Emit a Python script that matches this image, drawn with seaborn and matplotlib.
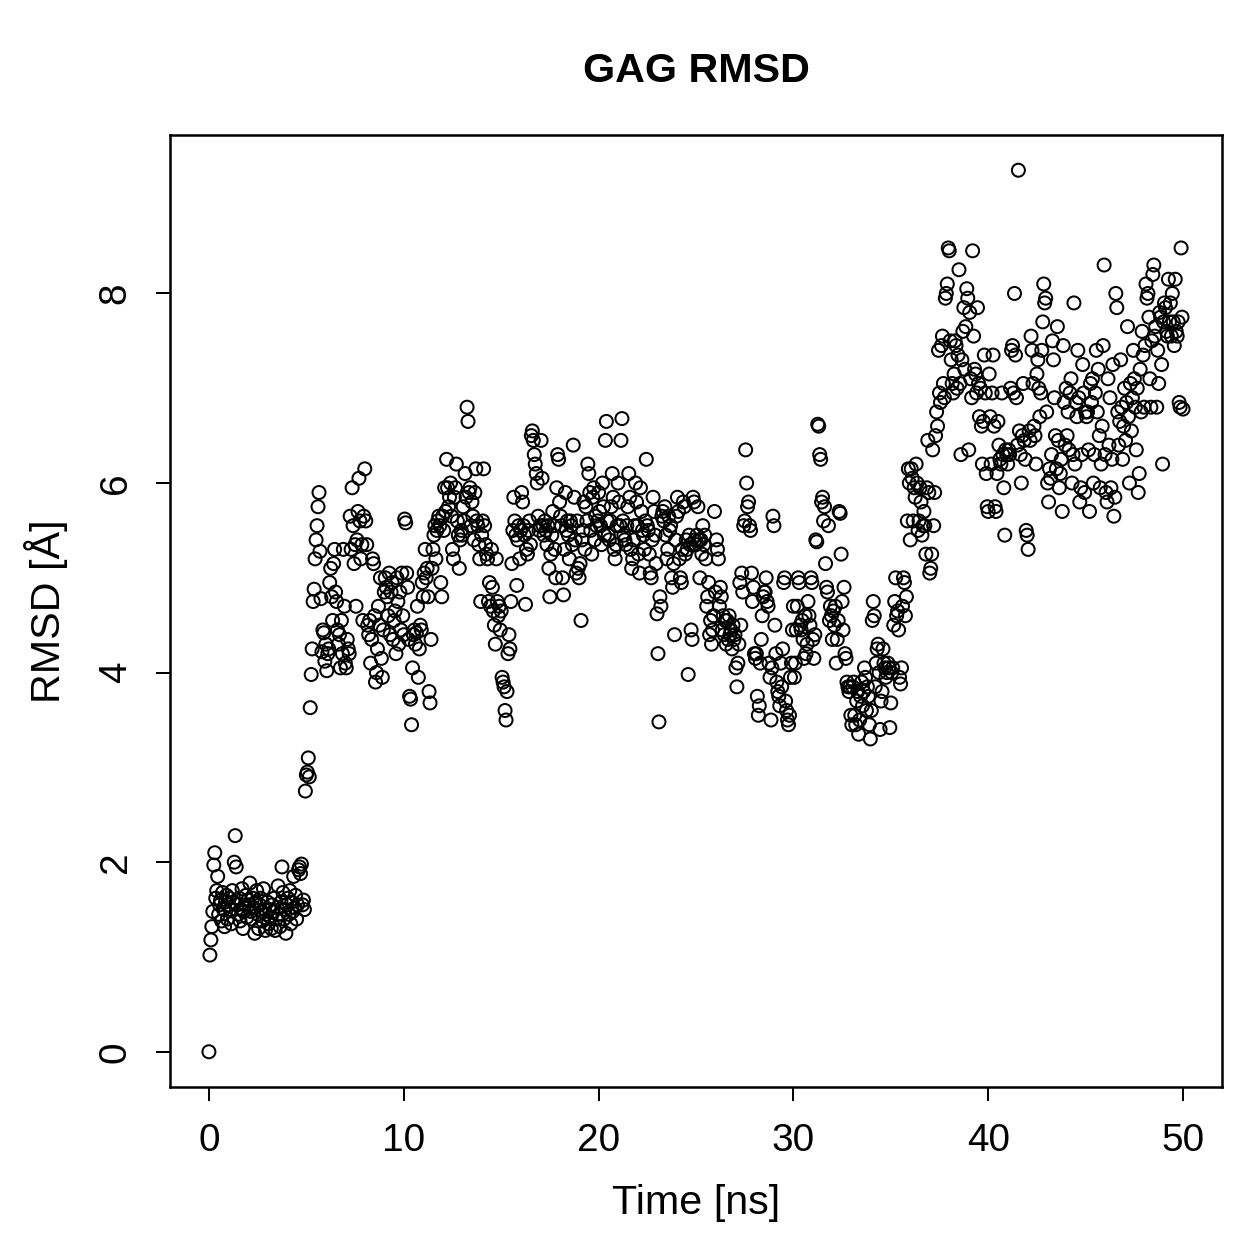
import numpy as np
import pandas as pd
import matplotlib
matplotlib.use("Agg")
import matplotlib.pyplot as plt
import seaborn as sns

# RMSD values, one line per nanosecond (20 frames / ns)
rmsd = [0.00,
    1.02, 1.18, 1.32, 1.48, 1.97, 2.10, 1.62, 1.70, 1.85, 1.45, 1.55, 1.60, 1.38, 1.68, 1.50, 1.32, 1.58, 1.65, 1.40, 1.55,
    1.62, 1.50, 1.35, 1.70, 1.58, 2.00, 2.28, 1.95, 1.55, 1.45, 1.62, 1.38, 1.50, 1.72, 1.30, 1.48, 1.55, 1.65, 1.42, 1.60,
    1.55, 1.78, 1.48, 1.40, 1.62, 1.52, 1.25, 1.58, 1.70, 1.45, 1.30, 1.55, 1.62, 1.48, 1.38, 1.72, 1.50, 1.28, 1.45, 1.58,
    1.35, 1.50, 1.42, 1.30, 1.55, 1.48, 1.62, 1.28, 1.40, 1.52, 1.75, 1.45, 1.32, 1.58, 1.95, 1.68, 1.40, 1.50, 1.25, 1.55,
    1.62, 1.45, 1.70, 1.35, 1.58, 1.48, 1.85, 1.52, 1.65, 1.40, 1.55, 1.92, 1.95, 1.88, 1.98, 1.55, 1.60, 1.50, 2.75, 2.92,
    2.95, 3.10, 2.90, 3.63, 3.98, 4.25, 4.75, 4.88, 5.20, 5.40, 5.55, 5.75, 5.90, 5.28, 4.78, 4.22, 4.45, 4.42, 4.12, 4.30,
    4.02, 4.20, 4.25, 4.95, 5.10, 4.80, 4.55, 5.15, 5.30, 4.85, 4.75, 4.45, 4.30, 4.40, 4.05, 4.55, 4.20, 5.30, 4.70, 4.10,
    4.05, 4.35, 4.25, 4.20, 5.65, 5.30, 5.95, 5.55, 5.15, 5.35, 4.70, 5.40, 5.70, 6.05, 5.60, 5.20, 5.35, 4.55, 5.65, 6.15,
    5.60, 5.35, 4.50, 4.40, 4.55, 4.10, 4.35, 5.20, 5.15, 4.60, 3.90, 4.00, 4.25, 4.70, 4.50, 5.00, 4.15, 3.95, 4.45, 4.85,
    5.00, 4.90, 4.80, 4.60, 5.05, 4.40, 4.85, 4.95, 4.35, 4.55, 4.65, 4.20, 5.00, 4.75, 4.30, 4.85, 4.45, 5.05, 4.60, 4.40,
    5.62, 5.58, 5.05, 4.90, 4.35, 3.75, 3.72, 3.45, 4.05, 4.40, 4.45, 4.30, 4.42, 4.70, 3.95, 4.25, 4.50, 4.45, 4.95, 4.80,
    5.05, 5.30, 5.00, 5.10, 4.80, 3.80, 3.68, 4.35, 5.10, 5.30, 5.45, 5.55, 5.20, 5.50, 5.60, 5.65, 5.55, 4.95, 4.80, 5.65,
    5.50, 5.95, 5.70, 6.25, 5.95, 5.75, 5.85, 6.00, 5.65, 5.30, 5.20, 5.85, 5.95, 6.20, 5.60, 5.45, 5.10, 5.40, 5.50, 5.45,
    5.75, 5.60, 6.10, 5.85, 6.80, 6.65, 5.90, 5.95, 5.55, 5.80, 5.65, 5.40, 5.90, 6.15, 5.60, 5.55, 5.35, 5.20, 4.75, 5.45,
    5.60, 6.15, 5.55, 5.35, 5.25, 5.20, 4.75, 4.95, 4.70, 5.30, 4.90, 4.65, 4.50, 4.30, 5.20, 4.75, 4.60, 4.70, 4.45, 4.65,
    3.95, 3.90, 3.85, 3.60, 3.50, 3.80, 4.20, 4.40, 4.25, 4.75, 5.15, 5.50, 5.85, 5.60, 5.45, 4.92, 5.40, 5.55, 5.20, 5.50,
    5.90, 5.80, 5.55, 5.45, 4.72, 5.30, 5.25, 5.50, 5.60, 5.35, 6.50, 6.55, 6.45, 6.30, 6.20, 6.10, 6.00, 5.65, 5.50, 5.55,
    6.45, 6.05, 5.55, 5.45, 5.60, 5.50, 5.35, 5.55, 5.10, 4.80, 5.25, 5.45, 5.70, 5.55, 5.30, 5.00, 5.95, 6.30, 6.25, 5.80,
    5.65, 5.55, 5.00, 4.82, 5.30, 5.90, 5.50, 5.60, 5.45, 5.20, 5.60, 5.55, 5.35, 6.40, 5.85, 5.40, 5.05, 5.60, 5.10, 5.00,
    5.15, 4.55, 5.40, 5.50, 5.80, 5.30, 5.75, 5.60, 6.20, 6.10, 5.90, 5.50, 5.25, 5.85, 5.95, 5.40, 5.65, 5.55, 5.60, 5.90,
    5.70, 5.55, 5.35, 6.00, 5.75, 5.45, 6.45, 6.65, 5.60, 5.45, 5.40, 5.60, 5.75, 6.10, 5.85, 5.30, 5.20, 5.35, 5.55, 6.00,
    5.80, 5.55, 6.45, 6.68, 5.60, 5.45, 5.40, 5.35, 5.55, 5.75, 6.10, 5.85, 5.30, 5.10, 5.20, 5.40, 5.55, 6.00, 5.80, 5.55,
    5.25, 5.05, 5.95, 5.70, 5.50, 5.45, 5.30, 5.60, 6.25, 5.55, 5.50, 5.25, 5.05, 5.00, 5.40, 5.85, 5.70, 5.45, 5.15, 4.62,
    4.20, 3.48, 4.80, 4.70, 5.65, 5.70, 5.60, 5.75, 5.45, 5.20, 5.30, 5.65, 5.50, 5.55, 5.00, 4.90, 5.15, 4.40, 5.40, 5.65,
    5.85, 5.70, 5.20, 5.00, 4.95, 5.30, 5.80, 5.75, 5.25, 5.40, 5.30, 3.98, 5.45, 5.35, 4.45, 4.35, 5.85, 5.80, 5.40, 5.35,
    5.45, 5.75, 5.40, 5.00, 5.40, 5.25, 5.55, 5.35, 5.45, 5.20, 4.70, 4.80, 4.95, 4.40, 4.55, 4.30, 4.45, 4.60, 5.70, 4.85,
    5.40, 5.30, 5.20, 4.70, 4.90, 4.80, 4.45, 4.60, 4.40, 4.55, 4.30, 4.55, 4.35, 4.60, 4.40, 4.45, 4.25, 4.50, 4.35, 4.40,
    4.05, 3.85, 4.10, 4.30, 4.95, 4.50, 5.05, 4.85, 5.55, 5.60, 6.35, 6.00, 5.75, 5.80, 5.55, 5.50, 5.05, 4.75, 4.90, 4.20,
    4.15, 4.20, 3.75, 3.55, 3.65, 4.10, 4.35, 4.60, 4.80, 4.85, 4.85, 5.00, 4.75, 4.70, 4.10, 3.95, 3.50, 4.05, 5.65, 5.55,
    4.50, 4.20, 3.90, 3.80, 3.75, 3.65, 4.10, 3.85, 4.25, 4.95, 5.00, 3.70, 3.60, 3.50, 3.45, 3.55, 3.95, 4.10, 4.45, 4.70,
    3.95, 4.10, 4.45, 4.70, 5.00, 4.95, 4.50, 4.45, 4.55, 4.35, 4.15, 4.60, 4.20, 4.30, 4.75, 4.60, 4.50, 5.00, 4.95, 4.35,
    4.15, 4.40, 5.40, 5.38, 6.62, 6.60, 6.30, 6.25, 5.80, 5.85, 5.60, 5.75, 5.15, 4.90, 4.85, 5.55, 4.55, 4.70, 4.60, 4.35,
    4.65, 4.50, 4.70, 4.10, 4.35, 4.55, 5.70, 5.68, 5.25, 4.75, 4.45, 4.90, 4.20, 4.15, 3.90, 3.85, 3.80, 3.85, 3.55, 3.45,
    3.85, 3.90, 3.55, 3.45, 3.70, 3.80, 3.35, 3.50, 3.75, 3.90, 3.65, 3.80, 4.05, 3.95, 3.60, 3.85, 3.75, 3.45, 3.30, 3.60,
    4.55, 4.75, 4.60, 3.85, 4.10, 4.25, 4.30, 4.00, 3.40, 3.70, 3.80, 4.25, 4.10, 4.05, 3.95, 4.00, 4.10, 4.05, 3.42, 3.68,
    4.00, 4.05, 4.50, 4.75, 5.00, 4.60, 4.65, 4.45, 3.95, 3.88, 4.05, 4.70, 5.00, 4.95, 4.60, 4.80, 5.60, 6.15, 6.00, 5.40,
    6.15, 6.05, 5.60, 5.95, 5.85, 6.20, 6.00, 5.50, 5.60, 5.95, 5.80, 5.45, 5.55, 5.70, 5.55, 5.25, 5.95, 6.45, 5.90, 5.05,
    5.10, 5.25, 6.35, 5.55, 5.90, 6.50, 6.75, 6.60, 7.40, 6.95, 6.85, 7.45, 7.55, 7.05, 6.90, 7.95, 8.00, 8.10, 8.48, 8.45,
    7.50, 7.30, 7.05, 6.95, 7.15, 7.50, 7.45, 7.00, 7.35, 8.25, 7.05, 6.30, 7.30, 7.60, 7.85, 7.20, 7.65, 8.05, 7.95, 6.35,
    7.80, 7.10, 6.90, 8.45, 7.55, 7.20, 7.15, 6.95, 7.85, 7.05, 6.70, 7.00, 6.60, 6.20, 6.65, 7.35, 6.95, 6.10, 5.75, 5.70,
    7.15, 6.70, 6.20, 6.95, 7.35, 6.60, 5.75, 5.70, 6.10, 6.65, 6.40, 6.25, 6.20, 6.95, 6.30, 5.95, 5.45, 6.35, 6.30, 6.20,
    6.35, 6.30, 7.00, 7.40, 7.45, 6.95, 8.00, 7.35, 6.90, 6.40, 9.30, 6.55, 6.30, 6.00, 6.50, 7.05, 6.45, 6.25, 5.50, 5.45,
    5.30, 6.55, 6.45, 7.55, 7.40, 7.05, 6.60, 6.50, 6.20, 7.15, 7.30, 7.00, 6.70, 6.95, 7.40, 7.70, 8.10, 7.90, 7.95, 6.75,
    6.00, 5.80, 6.15, 6.05, 6.30, 7.50, 7.30, 6.90, 6.50, 6.15, 7.65, 6.45, 5.95, 6.10, 6.25, 5.70, 7.45, 6.85, 6.40, 7.00,
    6.50, 6.75, 6.35, 6.95, 7.10, 6.00, 6.30, 7.90, 6.20, 6.85, 6.70, 7.40, 6.90, 5.80, 5.95, 6.30, 7.25, 6.95, 5.90, 6.75,
    6.70, 6.75, 6.35, 5.70, 7.05, 6.85, 7.10, 6.00, 6.30, 6.95, 7.40, 6.75, 7.20, 6.50, 5.95, 6.20, 6.60, 7.45, 8.30, 6.30,
    5.90, 5.80, 7.10, 6.40, 6.90, 5.95, 6.25, 7.25, 5.65, 5.85, 8.00, 7.85, 6.75, 6.40, 6.65, 7.30, 6.80, 6.25, 6.60, 7.00,
    6.45, 6.85, 7.65, 6.70, 6.00, 7.05, 6.55, 6.90, 7.40, 7.10, 6.80, 6.35, 7.00, 5.90, 6.10, 7.20, 6.75, 7.60, 7.35, 6.80,
    7.45, 8.10, 7.95, 8.00, 7.75, 7.10, 6.80, 7.50, 8.20, 8.30, 7.55, 7.65, 6.80, 7.40, 7.05, 7.80, 7.75, 7.25, 6.20, 7.70,
    7.90, 7.85, 7.60, 7.55, 8.15, 7.70, 7.90, 7.55, 8.00, 7.70, 7.45, 8.15, 7.60, 7.55, 7.70, 6.85, 6.80, 8.48, 7.75, 6.78,
]
# frames are written every 0.05 ns
time_ns = np.linspace(0, 50, len(rmsd))

x_ticks = [0, 10, 20, 30, 40, 50]
y_ticks = [0, 2, 4, 6, 8]

df = pd.DataFrame({"time": time_ns, "rmsd": rmsd})

sns.set_style("white")
plt.rcParams["font.family"] = ["Liberation Sans", "DejaVu Sans"]
plt.rcParams["text.color"] = "black"
plt.rcParams["axes.labelcolor"] = "black"
plt.rcParams["xtick.color"] = "black"
plt.rcParams["ytick.color"] = "black"

fig = plt.figure(figsize=(1259 / 180, 1259 / 180), dpi=180)
ax = fig.add_axes([0.135, 0.1366, 0.8356, 0.7562])

sns.scatterplot(data=df, x="time", y="rmsd", ax=ax, marker="o", s=27,
                facecolors="none", edgecolor="black", linewidth=0.8)

ax.set_xlim(-2, 52)
ax.set_ylim(-0.372, 9.672)
ax.set_xticks(x_ticks)
ax.set_yticks(y_ticks)
ax.set_yticklabels([str(v) for v in y_ticks], rotation=90, va="center")
ax.tick_params(axis="both", direction="out", length=5.5, width=0.8,
               labelsize=15.5, pad=9, colors="black", bottom=True, left=True)

for sp in ax.spines.values():
    sp.set_color("black")
    sp.set_linewidth(1.0)

ax.set_xlabel("Time [ns]", fontsize=16.5, labelpad=10, color="black")
ax.set_ylabel("RMSD [Å]", fontsize=16.5, labelpad=12, color="black")
ax.set_title("GAG RMSD", fontsize=16.5, fontweight="bold", pad=21, color="black")

fig.savefig("out.png", dpi=180, facecolor="white")
